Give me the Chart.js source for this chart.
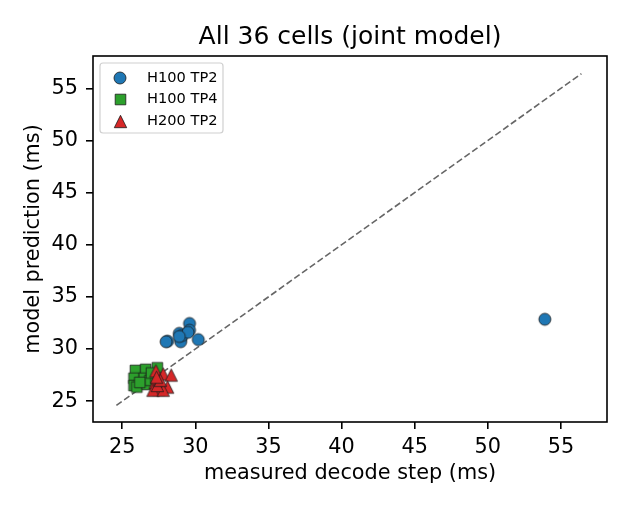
<!DOCTYPE html>
<html>
<head>
<meta charset="utf-8">
<script src="https://cdn.jsdelivr.net/npm/chart.js@4/dist/chart.umd.min.js"></script>
<style>
  html, body { margin: 0; padding: 0; background: #fff; }
  #wrap { width: 630px; height: 510px; }
</style>
</head>
<body>
<div id="wrap"><canvas id="c" width="630" height="510"></canvas></div>
<script>
// ---- data (measured decode step ms, model prediction ms) ----
const chartTitle = "All 36 cells (joint model)";
const seriesNames = ["H100 TP2", "H100 TP4", "H200 TP2"];
const h100tp2X = [28.1, 28.0, 28.9, 29.0, 29.0, 29.1, 29.6, 29.6, 29.5, 30.2, 28.9, 53.9];
const h100tp2Y = [30.75, 30.7, 31.5, 31.0, 30.7, 31.3, 32.45, 31.8, 31.6, 30.9, 31.2, 32.85];
const h100tp4X = [25.9, 26.6, 27.4, 25.8, 26.5, 25.8, 26.0, 26.7, 26.9, 27.3, 26.2, 27.0];
const h100tp4Y = [27.95, 28.05, 28.2, 27.2, 27.2, 26.5, 26.35, 26.6, 27.0, 27.2, 26.8, 27.7];
const h200tp2X = [27.3, 27.8, 28.35, 27.25, 27.6, 27.5, 27.1, 28.1, 27.8, 27.4, 27.6, 27.35];
const h200tp2Y = [27.9, 27.6, 27.5, 26.8, 26.5, 26.15, 26.05, 26.35, 26.05, 26.5, 27.0, 27.3];
const diagonal = [24.6, 56.4];
const xTicks = [25, 30, 35, 40, 45, 50, 55];
const yTicks = [25, 30, 35, 40, 45, 50, 55];

function pts(xs, ys) { return xs.map((x, i) => ({ x: x, y: ys[i] })); }

const FONT = "'DejaVu Sans', sans-serif";

function makeMarker(shape, size, fill) {
  const pad = 2;
  const n = Math.ceil(size + pad * 2);
  const cv = document.createElement('canvas');
  cv.width = n; cv.height = n;
  const g = cv.getContext('2d');
  const c = n / 2, h = size / 2;
  g.beginPath();
  if (shape === 'circle') {
    g.arc(c, c, h, 0, Math.PI * 2);
  } else if (shape === 'square') {
    g.rect(c - h, c - h, size, size);
  } else {
    g.moveTo(c, c - h);
    g.lineTo(c + h, c + h);
    g.lineTo(c - h, c + h);
    g.closePath();
  }
  g.fillStyle = fill;
  g.fill();
  g.lineWidth = 0.8;
  g.strokeStyle = '#1a1a1a';
  g.lineJoin = 'miter';
  g.stroke();
  return cv;
}

const mkCircle = makeMarker('circle', 12, '#1f77b4');
const mkSquare = makeMarker('square', 10.6, '#2ca02c');
const mkTri = makeMarker('triangle', 12.4, '#d62728');

const frameAndLegend = {
  id: 'frameAndLegend',
  afterDatasetsDraw(chart) {
    const ctx = chart.ctx;
    const a = chart.chartArea;
    ctx.save();
    ctx.strokeStyle = '#000';
    ctx.lineWidth = 1.6;
    ctx.strokeRect(a.left, a.top, a.right - a.left, a.bottom - a.top);
    // title, centred over the axes
    ctx.fillStyle = '#000';
    ctx.font = '25px ' + FONT;
    ctx.textAlign = 'center';
    ctx.textBaseline = 'alphabetic';
    ctx.fillText(chartTitle, (a.left + a.right) / 2, a.top - 12.5);
    // legend
    const lx = a.left + 7, ly = a.top + 7, lw = 123, lh = 70;
    ctx.fillStyle = 'rgba(255,255,255,0.8)';
    ctx.strokeStyle = '#d0d0d0';
    ctx.lineWidth = 1.2;
    ctx.beginPath();
    if (ctx.roundRect) ctx.roundRect(lx, ly, lw, lh, 3); else ctx.rect(lx, ly, lw, lh);
    ctx.fill();
    ctx.stroke();
    const ds = chart.data.datasets.filter(d => d.type !== 'line');
    ds.forEach((d, i) => {
      const cy = ly + 15 + i * 21.5;
      const cx = lx + 20;
      const img = d.pointStyle;
      ctx.drawImage(img, Math.round(cx - img.width / 2), Math.round(cy - img.height / 2));
      ctx.fillStyle = '#000';
      ctx.font = '14.6px ' + FONT;
      ctx.textBaseline = 'middle';
      ctx.textAlign = 'left';
      ctx.fillText(d.label, lx + 47, cy);
    });
    ctx.restore();
  }
};

new Chart(document.getElementById('c'), {
  type: 'scatter',
  data: {
    datasets: [
      {
        type: 'line', label: 'y=x', data: pts(diagonal, diagonal),
        borderColor: '#666666', borderWidth: 1.6, borderDash: [6.5, 3],
        pointRadius: 0, fill: false, order: 5
      },
      {
        label: seriesNames[0], data: pts(h100tp2X, h100tp2Y),
        pointStyle: mkCircle, pointRadius: 6, order: 3
      },
      {
        label: seriesNames[1], data: pts(h100tp4X, h100tp4Y),
        pointStyle: mkSquare, pointRadius: 6, order: 2
      },
      {
        label: seriesNames[2], data: pts(h200tp2X, h200tp2Y),
        pointStyle: mkTri, pointRadius: 6, order: 1
      }
    ]
  },
  options: {
    responsive: false,
    animation: false,
    events: [],
    layout: { padding: { left: 0, right: 23, top: 56, bottom: 0 } },
    plugins: {
      legend: { display: false },
      tooltip: { enabled: false },
      title: { display: false }
    },
    scales: {
      x: {
        type: 'linear', min: 23.0, max: 58.15,
        afterBuildTicks(s) { s.ticks = xTicks.map(v => ({ value: v })); },
        afterFit(s) { s.height = 88; },
        grid: { drawOnChartArea: false, drawTicks: true, tickLength: 7, lineWidth: 1.6, color: '#000', tickColor: '#000' },
        border: { display: false },
        ticks: { color: '#000', font: { family: FONT, size: 20.8 }, padding: 6, maxRotation: 0 },
        title: { display: true, text: 'measured decode step (ms)', color: '#000',
                 font: { family: FONT, size: 20.8 }, padding: { top: 0, bottom: 23.5 } }
      },
      y: {
        type: 'linear', min: 23.0, max: 58.1,
        afterBuildTicks(s) { s.ticks = yTicks.map(v => ({ value: v })); },
        afterFit(s) { s.width = 93; },
        grid: { drawOnChartArea: false, drawTicks: true, tickLength: 7, lineWidth: 1.6, color: '#000', tickColor: '#000' },
        border: { display: false },
        ticks: { color: '#000', font: { family: FONT, size: 20.8 }, padding: 8 },
        title: { display: true, text: 'model prediction (ms)', color: '#000',
                 font: { family: FONT, size: 20.8 }, padding: { top: 21.3, bottom: 0 } }
      }
    }
  },
  plugins: [frameAndLegend]
});
</script>
</body>
</html>
